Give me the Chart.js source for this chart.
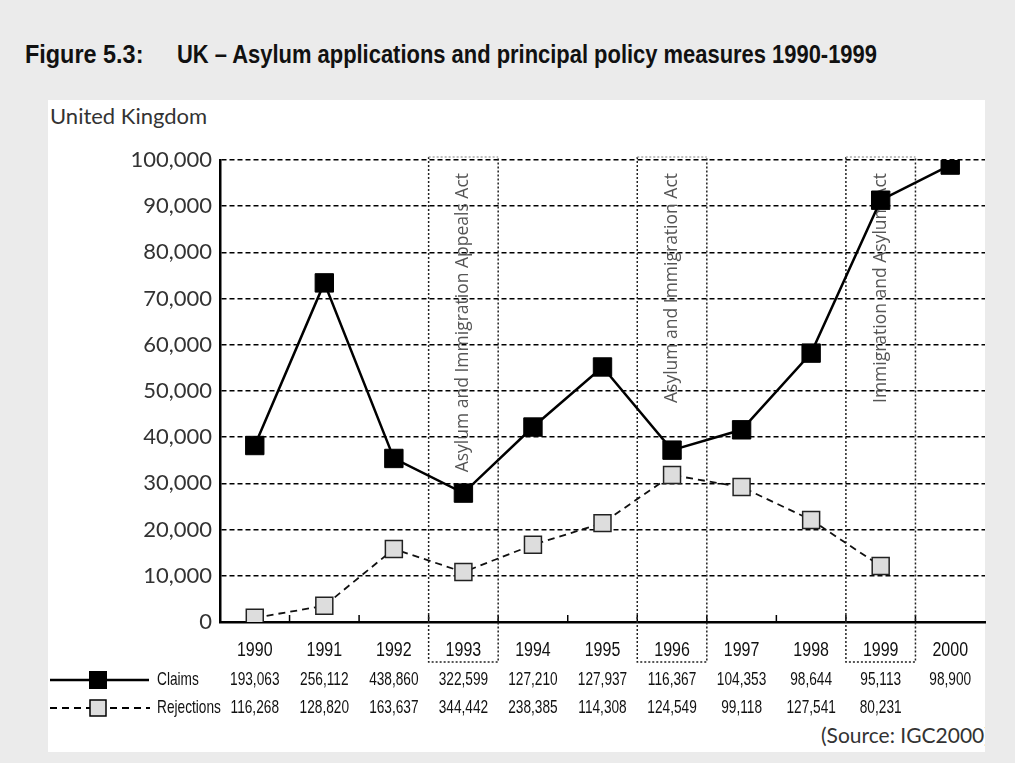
<!DOCTYPE html>
<html>
<head>
<meta charset="utf-8">
<script src="https://cdn.jsdelivr.net/npm/chart.js@4"></script>
<style>
    body { margin: 0; background: #ebebeb; width: 1015px; height: 763px; overflow: hidden; position: relative; }
    .title { position: absolute; top: 39px; font-family: "Liberation Sans", Arial, sans-serif; font-weight: bold; font-size: 26px; color: #111; white-space: pre; transform-origin: 0 0; }
    #panel { position: absolute; left: 48px; top: 100px; width: 937px; height: 652px; background: #fff; overflow: hidden; }
    #country { position: absolute; left: 50px; top: 102px; font-family: Lato, sans-serif; font-size: 22px; color: #333; }
    #source { position: absolute; left: 773px; top: 622px; font-family: Lato, sans-serif; font-size: 21px; color: #333; white-space: pre; }
    #chart { position: absolute; left: 0; top: 0; }
</style>
</head>
<body>
<div id="panel"><div id="source">(Source: IGC2000)</div></div>
<div class="title" id="t1" style="left:25px">Figure 5.3:</div>
<div class="title" id="t2" style="left:177px">UK – Asylum applications and principal policy measures 1990-1999</div>
<div id="country">United Kingdom</div>
<canvas id="chart" width="1015" height="763"></canvas>
<script>
// values
const years = ["1990", "1991", "1992", "1993", "1994", "1995", "1996", "1997", "1998", "1999", "2000"]
const claims = [38200, 73400, 35400, 27900, 42200, 55200, 37200, 41600, 58200, 91300, 98900]
const rejections = [900, 3500, 15800, 10800, 16700, 21400, 31800, 29200, 22100, 12100, null]

// the table under the axis
const claimsTable = ["193,063", "256,112", "438,860", "322,599", "127,210", "127,937", "116,367", "104,353", "98,644", "95,113", "98,900"]
const rejectionsTable = ["116,268", "128,820", "163,637", "344,442", "238,385", "114,308", "124,549", "99,118", "127,541", "80,231", ""]

// policy measures, boxed years
const policyYears = ["1993", "1996", "1999"]
const policyNames = ["Asylum and Immigration Appeals Act", "Asylum and Immigration Act", "Immigration and Asylum Act"]

// squeeze the title spans to the condensed width of the original
function fitWidth(id, w) {
    const el = document.getElementById(id)
    el.style.transform = "scaleX(" + (w / el.offsetWidth) + ")"
}
fitWidth("t1", 118)
fitWidth("t2", 700)

// condensed text for the year row and the table
function narrowText(ctx, text, x, y, sx, align) {
    ctx.save()
    ctx.translate(x, y)
    ctx.scale(sx, 1)
    ctx.textAlign = align
    ctx.fillText(text, 0, 0)
    ctx.restore()
}

const boxesPlugin = {
    id: "boxes",
    beforeDatasetsDraw(chart) {
        const ctx = chart.ctx
        const x = chart.scales.x
        const area = chart.chartArea
        const half = (x.getPixelForValue(1) - x.getPixelForValue(0)) / 2
        ctx.save()
        // small ticks at category borders
        ctx.strokeStyle = "#000"
        ctx.lineWidth = 1.5
        for (let i = 1; i < years.length; i++) {
            const bx = x.getPixelForValue(i) - half
            ctx.beginPath()
            ctx.moveTo(bx, area.bottom)
            ctx.lineTo(bx, area.bottom - 7)
            ctx.stroke()
        }
        policyYears.forEach((y, k) => {
            const i = years.indexOf(y)
            const cx = x.getPixelForValue(i)
            const l = cx - half, r = cx + half
            ctx.setLineDash([2, 2])
            ctx.lineWidth = 1.5
            ctx.strokeStyle = "#222"
            ctx.beginPath()
            ctx.moveTo(l, area.top - 3)
            ctx.lineTo(l, area.bottom + 40)
            ctx.lineTo(r, area.bottom + 40)
            ctx.lineTo(r, area.top - 3)
            ctx.stroke()
            ctx.strokeStyle = "#aaa"
            ctx.beginPath()
            ctx.moveTo(l, area.top - 3)
            ctx.lineTo(r, area.top - 3)
            ctx.stroke()
            ctx.setLineDash([])
            // rotated act name
            ctx.save()
            ctx.translate(cx, area.top + 13)
            ctx.rotate(-Math.PI / 2)
            ctx.font = '17.5px "Open Sans", sans-serif'
            ctx.fillStyle = "#555"
            ctx.textAlign = "right"
            ctx.textBaseline = "middle"
            ctx.fillText(policyNames[k], 0, 0)
            ctx.restore()
        })
        ctx.restore()
    },
    afterDraw(chart) {
        const ctx = chart.ctx
        const x = chart.scales.x
        ctx.save()
        ctx.fillStyle = "#111"
        ctx.textBaseline = "middle"
        ctx.font = '20px "Liberation Sans", Arial, sans-serif'
        years.forEach((y, i) => {
            narrowText(ctx, y, x.getPixelForValue(i), 650, 0.8, "center")
        })
        ctx.font = '19px "Liberation Sans", Arial, sans-serif'
        years.forEach((y, i) => {
            const cx = x.getPixelForValue(i)
            narrowText(ctx, claimsTable[i], cx, 680, 0.72, "center")
            narrowText(ctx, rejectionsTable[i], cx, 708, 0.72, "center")
        })
        narrowText(ctx, "Claims", 157, 680, 0.72, "left")
        narrowText(ctx, "Rejections", 157, 708, 0.72, "left")
        // legend samples
        ctx.strokeStyle = "#000"
        ctx.lineWidth = 2.5
        ctx.beginPath()
        ctx.moveTo(50, 680)
        ctx.lineTo(149, 680)
        ctx.stroke()
        ctx.fillStyle = "#000"
        ctx.fillRect(89, 671, 18, 18)
        ctx.lineWidth = 2
        ctx.setLineDash([7, 5])
        ctx.beginPath()
        ctx.moveTo(50, 708)
        ctx.lineTo(150, 708)
        ctx.stroke()
        ctx.setLineDash([])
        ctx.fillStyle = "#ddd"
        ctx.fillRect(90, 700, 16, 16)
        ctx.lineWidth = 1.5
        ctx.strokeRect(90, 700, 16, 16)
        ctx.restore()
    }
}

new Chart(document.getElementById("chart").getContext("2d"), {
    type: "line",
    data: {
        labels: years,
        datasets: [
            {
                label: "Claims",
                data: claims,
                borderColor: "#000",
                borderWidth: 2.5,
                pointStyle: "rect",
                pointRadius: 13,
                pointBackgroundColor: "#000",
                pointBorderColor: "#000",
                pointBorderWidth: 1
            },
            {
                label: "Rejections",
                data: rejections,
                borderColor: "#111",
                borderWidth: 1.8,
                borderDash: [7, 5],
                pointStyle: "rect",
                pointRadius: 12,
                pointBackgroundColor: "#ddd",
                pointBorderColor: "#222",
                pointBorderWidth: 1.5
            }
        ]
    },
    options: {
        responsive: false,
        animation: false,
        layout: { padding: { left: 0, right: 30, top: 160, bottom: 0 } },
        plugins: { legend: { display: false }, tooltip: { enabled: false } },
        scales: {
            x: {
                offset: true,
                afterFit(scale) { scale.height = 141 },
                grid: { display: false, drawTicks: false },
                border: { display: true, color: "#000", width: 2.5 },
                ticks: { display: false }
            },
            y: {
                min: 0,
                max: 100000,
                afterFit(scale) { scale.width = 220 },
                grid: { color: "#000", lineWidth: 1.5, drawTicks: false },
                border: { display: true, color: "#000", width: 2.5, dash: [5, 3] },
                ticks: {
                    stepSize: 10000,
                    padding: 8,
                    color: "#333",
                    font: { family: "Lato, sans-serif", size: 22 },
                    callback: v => v.toLocaleString("en-US")
                }
            }
        }
    },
    plugins: [boxesPlugin]
})
</script>
</body>
</html>
